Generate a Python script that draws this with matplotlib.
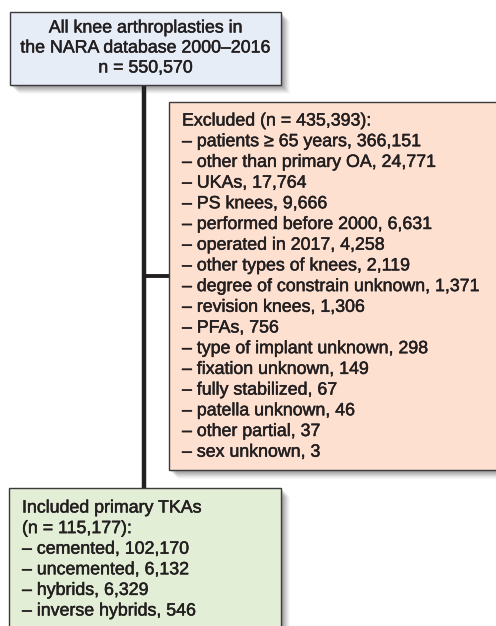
import matplotlib
matplotlib.use("Agg")
import matplotlib.pyplot as plt
from matplotlib.patches import Rectangle
import matplotlib.patheffects as pe

plt.rcParams['font.family'] = ['Liberation Sans', 'DejaVu Sans']

# ---- data ----
top_title = ["All knee arthroplasties in", "the NARA database 2000\u20132016"]
total_n = "550,570"

excluded_total = "435,393"
excluded_reasons = ["patients \u2265 65 years", "other than primary OA", "UKAs", "PS knees",
                    "performed before 2000", "operated in 2017", "other types of knees",
                    "degree of constrain unknown", "revision knees", "PFAs",
                    "type of implant unknown", "fixation unknown", "fully stabilized",
                    "patella unknown", "other partial", "sex unknown"]
excluded_counts = ["366,151", "24,771", "17,764", "9,666", "6,631", "4,258", "2,119",
                   "1,371", "1,306", "756", "298", "149", "67", "46", "37", "3"]

included_total = "115,177"
included_types = ["cemented", "uncemented", "hybrids", "inverse hybrids"]
included_counts = ["102,170", "6,132", "6,329", "546"]

# ---- figure ----
W, H = 496, 626
fig = plt.figure(figsize=(W / 100, H / 100), dpi=100)
ax = fig.add_axes([0, 0, 1, 1])
ax.set_xlim(0, W)
ax.set_ylim(H, 0)
ax.axis('off')

TXT = '#231f20'
EDGE = '#3a3a3a'
FS = 12.8
PE = [pe.withStroke(linewidth=0.35, foreground=TXT)]


def shadow_box(x0, y0, x1, y1, fc):
    # soft shadow
    for i, a in enumerate([0.12, 0.12, 0.11, 0.10, 0.09, 0.07, 0.05, 0.04]):
        off = 2 + i
        ax.add_patch(Rectangle((x0 + off, y0 + off), x1 - x0, y1 - y0,
                               facecolor='#555555', edgecolor='none', alpha=a, zorder=1))
    ax.add_patch(Rectangle((x0, y0), x1 - x0, y1 - y0, facecolor=fc,
                           edgecolor=EDGE, linewidth=1.0, zorder=3))


def put(x, y, t, ha):
    ax.text(x, y, t, ha=ha, va='center', fontsize=FS, color=TXT, zorder=4, path_effects=PE)


# connectors
ax.plot([144, 144], [85, 488], color='#231f20', lw=3.2, zorder=2, solid_capstyle='butt')
ax.plot([144, 169], [276, 276], color='#231f20', lw=2.8, zorder=2, solid_capstyle='butt')

# top box
shadow_box(10, 12, 281, 85, '#e6edf7')
top_lines = top_title + ["n = " + total_n]
for i, t in enumerate(top_lines):
    put(145.5, 28 + i * 20, t, 'center')

# excluded box
shadow_box(169, 102, 500, 470, '#fde0d0')
exc_lines = ["Excluded (n = " + excluded_total + "):"] + \
    ["\u2013 %s, %s" % (r, c) for r, c in zip(excluded_reasons, excluded_counts)]
for i, t in enumerate(exc_lines):
    put(182, 121 + i * 20.7, t, 'left')

# included box
shadow_box(9, 488, 281, 640, '#e2eed5')
inc_lines = ["Included primary TKAs", "(n = " + included_total + "):"] + \
    ["\u2013 %s, %s" % (r, c) for r, c in zip(included_types, included_counts)]
for i, t in enumerate(inc_lines):
    put(22, 508 + i * 20.6, t, 'left')

fig.savefig("out.png", dpi=100)
